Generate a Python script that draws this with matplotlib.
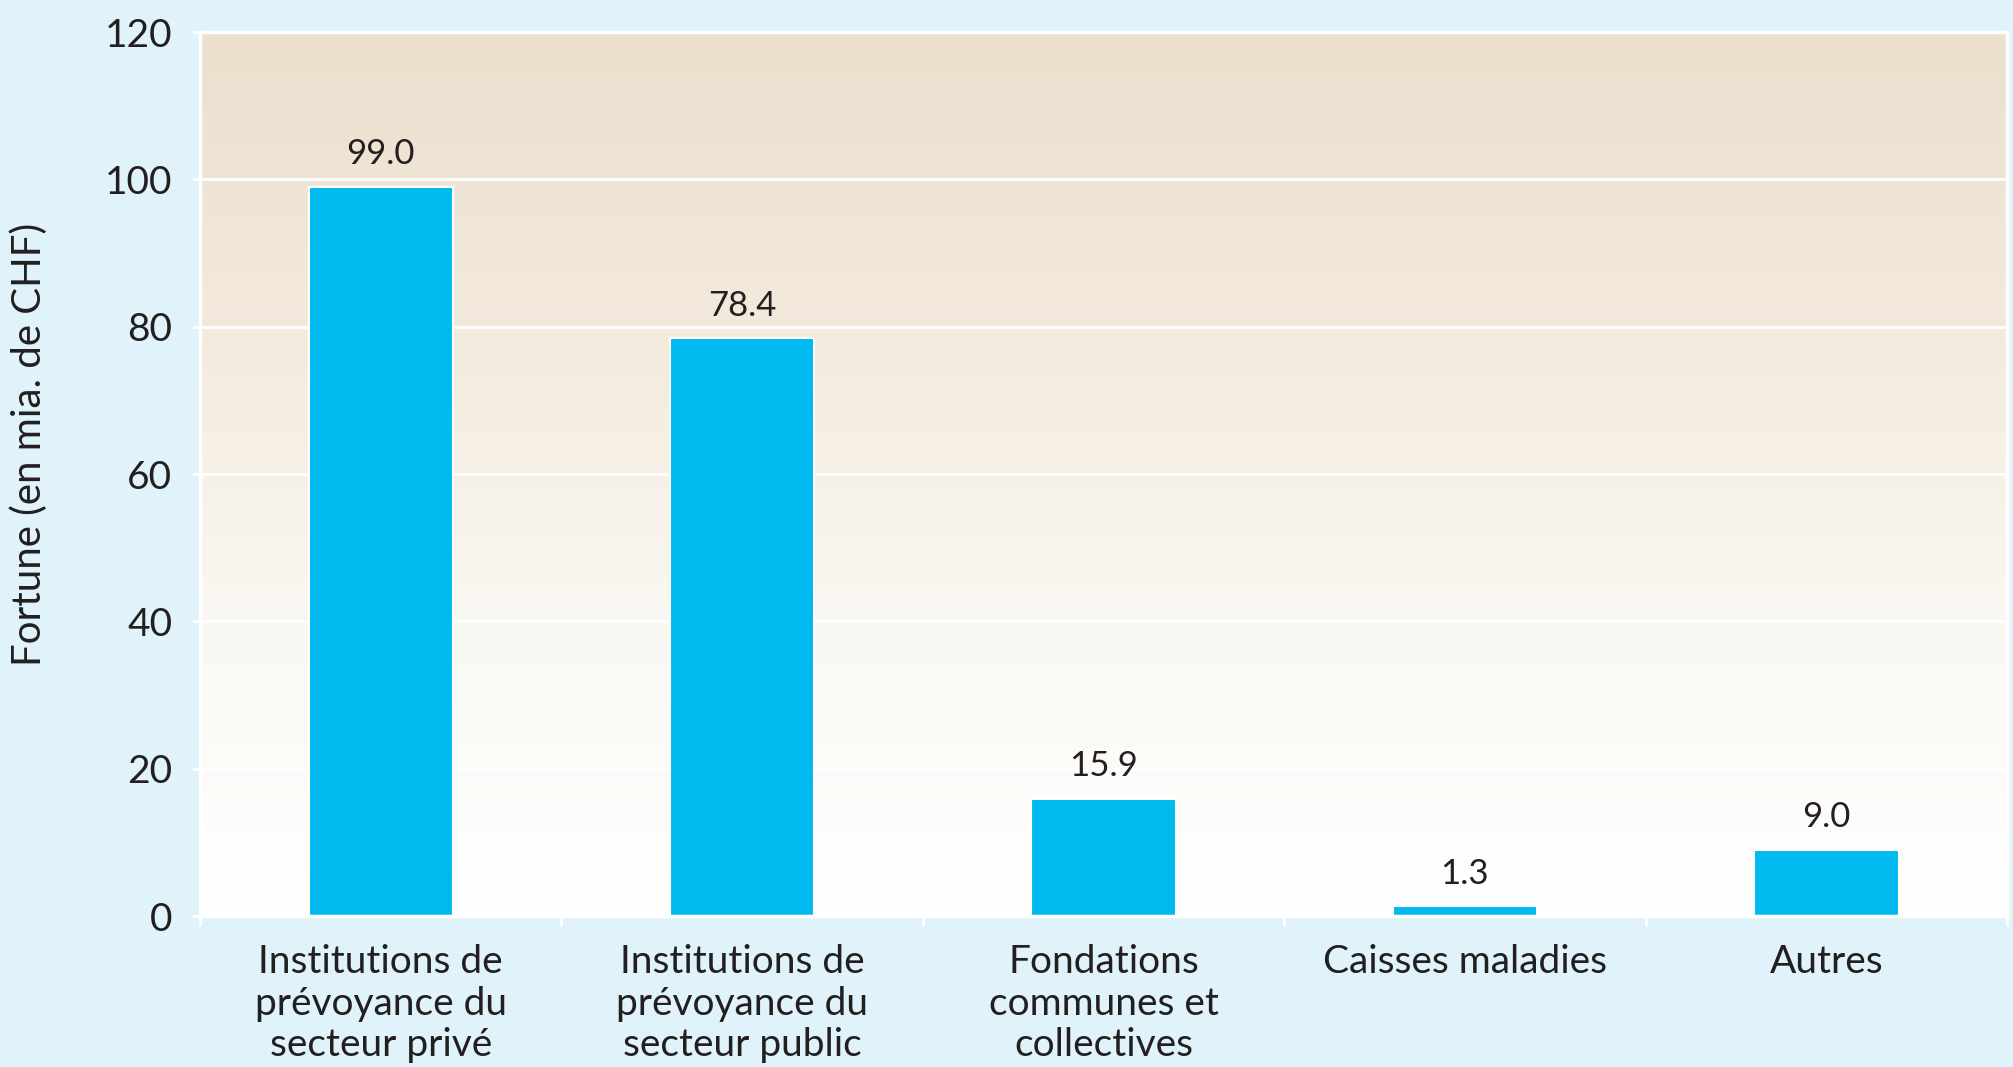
import numpy as np
import matplotlib.pyplot as plt
from matplotlib.colors import LinearSegmentedColormap

plt.rcParams['font.family'] = ['Lato', 'DejaVu Sans']

# données
categories = ["Institutions de\nprévoyance du\nsecteur privé",
              "Institutions de\nprévoyance du\nsecteur public",
              "Fondations\ncommunes et\ncollectives",
              "Caisses maladies",
              "Autres"]
values = [99.0, 78.4, 15.9, 1.3, 9.0]
yticks = [0, 20, 40, 60, 80, 100, 120]

txt = '#231F20'
bar_color = '#00B9EF'

fig = plt.figure(figsize=(20.13, 10.67), dpi=100, facecolor='#E0F3FA')
ax = fig.add_axes([0.0994, 0.1415, 0.8976, 0.8285])

x = np.arange(len(categories))
ax.set_xlim(-0.5, len(categories) - 0.5)
ax.set_ylim(0, 120)

# fond dégradé beige -> blanc
cmap = LinearSegmentedColormap.from_list('bg', ['#FFFFFF', '#FAF8F3', '#F3EADD', '#EBDFCD'])
grad = np.linspace(0, 1, 256).reshape(-1, 1)
ax.imshow(grad, cmap=cmap, origin='lower', aspect='auto',
          extent=[-0.5, len(categories) - 0.5, 0, 120], zorder=0)

ax.set_yticks(yticks)
ax.grid(axis='y', color='white', linewidth=2, zorder=1)

bars = ax.bar(x, values, width=0.4, color=bar_color, edgecolor='white',
              linewidth=1.5, zorder=2)
for b, v in zip(bars, values):
    ax.annotate(f"{v:.1f}", (b.get_x() + b.get_width() / 2, v),
                xytext=(0, 12), textcoords='offset points',
                ha='center', va='bottom', fontsize=25, color=txt)

ax.set_xticks(x)
ax.set_xticklabels(categories, fontsize=28, color=txt, linespacing=1.2)
ax.set_xticks(np.arange(-0.5, len(categories)), minor=True)
ax.tick_params(axis='x', which='major', length=0, pad=20)
ax.tick_params(axis='x', which='minor', length=7, width=2, color='white')
ax.tick_params(axis='y', length=6, width=2, color='white', pad=14,
               labelsize=28, labelcolor=txt)

for s in ax.spines.values():
    s.set_color('white')
    s.set_linewidth(2.5)

ax.set_ylabel("Fortune (en mia. de CHF)", fontsize=29, color=txt)
ax.yaxis.set_label_coords(-0.084, 0.534)

fig.savefig('out.png', dpi=100, facecolor=fig.get_facecolor())
